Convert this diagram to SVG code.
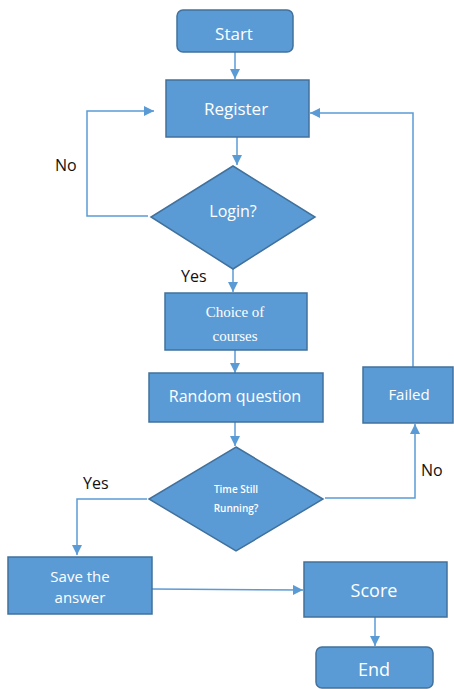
<svg xmlns="http://www.w3.org/2000/svg" width="454" height="689" viewBox="0 0 454 689">
<defs>
<style>
.n{fill:#5B9BD5;stroke:#41719C;stroke-width:1.5}
.t{fill:#fff;font-family:"Open Sans","Liberation Sans",sans-serif;text-anchor:middle;dominant-baseline:central}
.s{fill:#fff;font-family:"Liberation Serif",serif;text-anchor:middle;dominant-baseline:central;font-size:15px}
.l{fill:#111;font-family:"Open Sans","Liberation Sans",sans-serif;font-size:16px;dominant-baseline:central}
.c{fill:none;stroke:#5B9BD5;stroke-width:1.5}
</style>
<marker id="a" markerWidth="10" markerHeight="10" refX="10" refY="5" orient="auto" markerUnits="userSpaceOnUse">
<path d="M0,0 L10,5 L0,10 Z" fill="#5B9BD5"/>
</marker>
</defs>
<g id="connectors">
<path class="c" d="M235,52 V79" marker-end="url(#a)"/>
<path class="c" d="M237,137 V165" marker-end="url(#a)"/>
<path class="c" d="M148,216 H87 V111 H154" marker-end="url(#a)"/>
<path class="c" d="M413,367 V113 H310" marker-end="url(#a)"/>
<path class="c" d="M233,269 V292" marker-end="url(#a)"/>
<path class="c" d="M235,350 V373" marker-end="url(#a)"/>
<path class="c" d="M235,422 V446" marker-end="url(#a)"/>
<path class="c" d="M325,498 H415 V424" marker-end="url(#a)"/>
<path class="c" d="M147,499 H77 V555" marker-end="url(#a)"/>
<path class="c" d="M152,589 L303,590" marker-end="url(#a)"/>
<path class="c" d="M375,617 V646" marker-end="url(#a)"/>
</g>
<g id="start"><rect class="n" x="177" y="10" width="116" height="42" rx="6"/><text class="t" x="234" y="33" font-size="17">Start</text></g>
<g id="register"><rect class="n" x="166" y="80" width="143" height="57"/><text class="t" x="236" y="108" font-size="17">Register</text></g>
<g id="login"><path class="n" d="M233,166 L315,217 L233,269 L151,217 Z"/><text class="t" x="233" y="211" font-size="16">Login?</text></g>
<g id="choice"><rect class="n" x="165" y="293" width="142" height="57"/><text class="s" x="235" y="312">Choice of</text><text class="s" x="235" y="336">courses</text></g>
<g id="random"><rect class="n" x="149" y="373" width="174" height="49"/><text class="t" x="235" y="396" font-size="16">Random question</text></g>
<g id="failed"><rect class="n" x="363" y="367" width="90" height="56"/><text class="t" x="409" y="394" font-size="15">Failed</text></g>
<g id="time"><path class="n" d="M236,447 L323,499 L236,551 L149,499 Z"/><text class="t" x="236" y="489" font-size="10" font-weight="600">Time Still</text><text class="t" x="236" y="508" font-size="10" font-weight="600">Running?</text></g>
<g id="save"><rect class="n" x="8" y="557" width="144" height="57"/><text class="t" x="80" y="576" font-size="15">Save the</text><text class="t" x="80" y="597" font-size="15">answer</text></g>
<g id="score"><rect class="n" x="304" y="562" width="143" height="55"/><text class="t" x="374" y="590" font-size="18">Score</text></g>
<g id="end"><rect class="n" x="316" y="647" width="117" height="41" rx="6"/><text class="t" x="374" y="669" font-size="18">End</text></g>
<g id="labels">
<text class="l" x="55" y="165">No</text>
<text class="l" x="181" y="276">Yes</text>
<text class="l" x="421" y="470">No</text>
<text class="l" x="83" y="483">Yes</text>
</g>
</svg>
